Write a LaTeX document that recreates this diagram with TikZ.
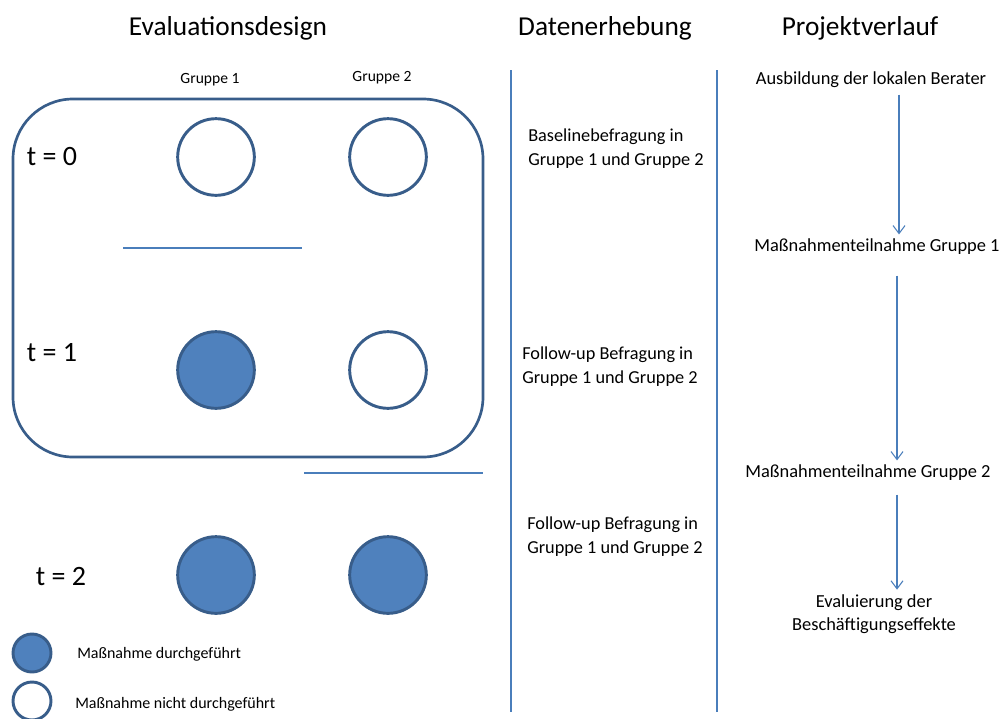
\documentclass[tikz,border=0pt]{standalone}
\usepackage{fontspec}
\setmainfont{Carlito}
\usetikzlibrary{positioning,arrows.meta}
\definecolor{rand}{HTML}{385D8A}
\definecolor{fuell}{HTML}{4F81BD}
\definecolor{linie}{HTML}{4A7EBB}
\tikzset{
  leer/.style={circle, draw=rand, line width=2.2pt, fill=white, minimum size=57.5pt, inner sep=0pt},
  voll/.style={leer, fill=fuell},
  leerklein/.style={leer, minimum size=28.5pt},
  vollklein/.style={voll, minimum size=28.5pt},
  titel/.style={font=\fontsize{20.5}{24}\selectfont},
  klein/.style={font=\fontsize{11.7}{14}\selectfont},
  legtxt/.style={font=\fontsize{12}{14}\selectfont, anchor=west, inner sep=0pt},
  zeit/.style={font=\fontsize{21}{24}\selectfont},
  txt/.style={font=\fontsize{13.7}{18}\selectfont, align=left, anchor=west, inner sep=0pt},
  proj/.style={font=\fontsize{13.8}{17.5}\selectfont, align=center},
  trenn/.style={linie, line width=0.8pt},
  pfeil/.style={linie, line width=0.8pt, -{Straight Barb[length=6pt,width=9pt]}}
}
\begin{document}
\begin{tikzpicture}[x=0.75pt,y=-0.75pt]
    \useasboundingbox (0,0) rectangle (1002,718);
    % Ueberschriften
    \node[titel] (evtitel) at (228,28) {Evaluationsdesign};
    \node[titel] (datitel) at (605,28) {Datenerhebung};
    \node[titel] (pvtitel) at (860,28) {Projektverlauf};
    % Evaluationsdesign
    \draw[rand, line width=2pt, rounded corners=45pt] (13,99) rectangle (483,457);
    \node[klein] (gr1) at (210,80) {Gruppe 1};
    \node[klein] (gr2) at (382,78) {Gruppe 2};
    \foreach \y/\ty/\tx/\n/\a/\b in {157/157/52/0/leer/leer,370/353/52/1/voll/leer,575/577/61/2/voll/voll}{
        \node[zeit] (t\n) at (\tx,\ty) {t = \n};
        \node[\a] (ga\n) at (216,\y) {};
        \node[\b] (gb\n) at (388,\y) {};
    }
    \draw[trenn] (123,248) -- (302,248);
    \draw[trenn] (304,473) -- (483,473);
    % Legende
    \node[vollklein] (lvoll) at (32,653) {};
    \node[leerklein] (lleer) at (32,701) {};
    \node[legtxt] (lvtxt) at (77,654) {Maßnahme durchgeführt};
    \node[legtxt] (lltxt) at (75,704) {Maßnahme nicht durchgeführt};
    % Trennlinien
    \draw[linie, line width=1.1pt] (511,70) -- (511,712);
    \draw[linie, line width=1.1pt] (717,70) -- (717,712);
    % Datenerhebung
    \node[txt] (d0) at (528,149) {Baselinebefragung in\\Gruppe 1 und Gruppe 2};
    \node[txt] (d1) at (522,367) {Follow-up Befragung in\\Gruppe 1 und Gruppe 2};
    \node[txt] (d2) at (527,537) {Follow-up Befragung in\\Gruppe 1 und Gruppe 2};
    % Projektverlauf
    \node[proj] (ausb) at (871,80) {Ausbildung der lokalen Berater};
    \node[proj] (mg1) at (877,247) {Maßnahmenteilnahme Gruppe 1};
    \node[proj] (mg2) at (868,473) {Maßnahmenteilnahme Gruppe 2};
    \node[proj] (eval) at (874,614) {Evaluierung der\\Beschäftigungseffekte};
    \draw[pfeil] (ausb.south -| 899,0) ++(0,2) -- (mg1.north -| 899,0);
    \draw[pfeil] (mg1.south -| 897,0) ++(0,16) -- (mg2.north -| 897,0);
    \draw[pfeil] (mg2.south -| 897,0) ++(0,9) -- (eval.north -| 897,0);
\end{tikzpicture}
\end{document}
